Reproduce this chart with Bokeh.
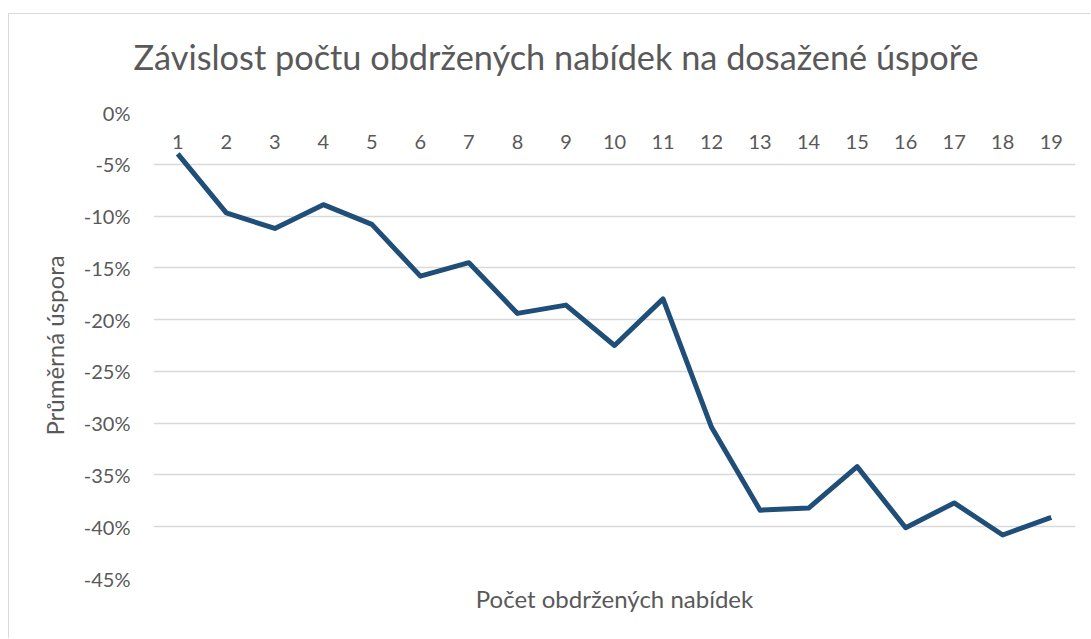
from bokeh.plotting import figure
from bokeh.models import Range1d, FactorRange, NumeralTickFormatter, FixedTicker, Title, ColumnDataSource
from bokeh.core.properties import value
from bokeh.embed import file_html
from bokeh.resources import INLINE

# --- data ---
categories = [str(i) for i in range(1, 20)]
avg_saving = [-0.040, -0.097, -0.112, -0.089, -0.108, -0.158, -0.145, -0.194, -0.186,
              -0.225, -0.180, -0.304, -0.384, -0.382, -0.342, -0.401, -0.377, -0.408, -0.391]
y_ticks = [0.0, -0.05, -0.10, -0.15, -0.20, -0.25, -0.30, -0.35, -0.40, -0.45]
title_text = "Závislost počtu obdržených nabídek na dosažené úspoře"
x_title = "Počet obdržených nabídek"
y_title = "Průměrná úspora"

FONT = "Lato"
TXT = "#595959"

p = figure(width=1082, height=625, output_backend="svg", toolbar_location=None,
           x_range=FactorRange(*categories, range_padding=0),
           y_range=Range1d(-0.45, 0.0),
           x_axis_location=None,
           min_border_left=144, min_border_right=16, min_border_top=98, min_border_bottom=61)
p.styles = {"border-top": "1px solid #D9D9D9", "border-left": "1px solid #D9D9D9"}
p.margin = (13, 0, 0, 8)
p.outline_line_color = None
p.background_fill_color = "white"
p.border_fill_color = "white"

p.title.text = title_text
p.title.text_font = FONT
p.title.text_font_size = "34.3px"
p.title.text_font_style = "normal"
p.title.text_color = TXT
p.title.align = "left"
p.title.offset = -20
p.title.standoff = 34

# spacer between the frame and the main title
p.add_layout(Title(text=" ", text_font_size="1px", standoff=16), "above")

p.add_layout(Title(text=x_title, align="center", text_font=FONT, text_font_size="24px",
                   text_font_style="normal", text_color=TXT, standoff=6), "below")

yax = p.yaxis[0]
yax.ticker = FixedTicker(ticks=y_ticks)
yax.formatter = NumeralTickFormatter(format="0%")
yax.axis_line_color = None
yax.major_tick_line_color = None
yax.minor_tick_line_color = None
yax.major_tick_out = 0
yax.major_label_standoff = 23
yax.major_label_text_font = FONT
yax.major_label_text_font_size = "20px"
yax.major_label_text_color = TXT
yax.axis_label = y_title
yax.axis_label_text_font = FONT
yax.axis_label_text_font_size = "24px"
yax.axis_label_text_font_style = "normal"
yax.axis_label_text_color = TXT
yax.axis_label_standoff = 12

p.ygrid.grid_line_color = "#D9D9D9"
p.ygrid.grid_line_width = 1.5
p.xgrid.grid_line_color = None

src = ColumnDataSource(dict(x=categories, y=avg_saving))
p.line("x", "y", source=src, line_color="#1F4E79", line_width=5, line_join="round")

lab = ColumnDataSource(dict(x=categories, y=[0.0] * len(categories), t=categories))
p.text("x", "y", text="t", source=lab, text_align="center", text_baseline="alphabetic",
       y_offset=29, text_font=value(FONT), text_font_size="20px", text_color=TXT)

open("out.html", "w").write(file_html(p, INLINE))
